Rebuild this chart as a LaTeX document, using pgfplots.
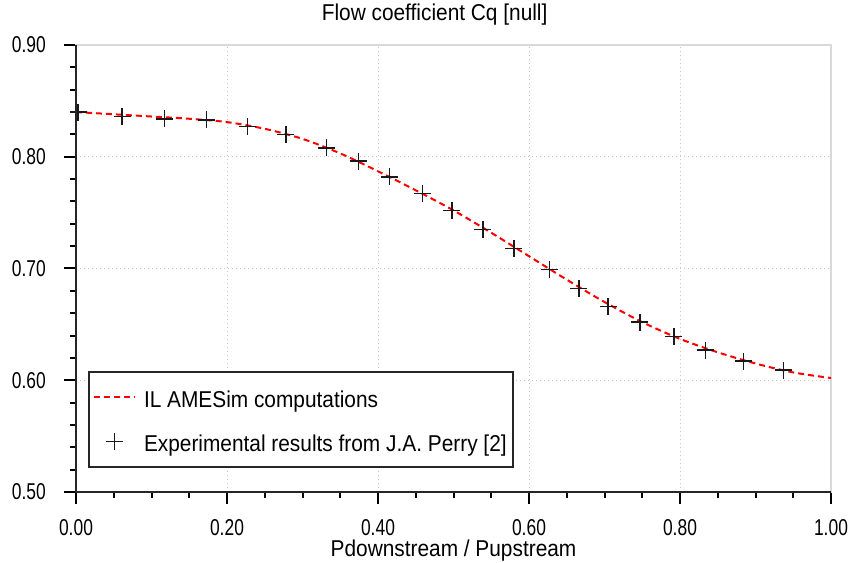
\documentclass[border=0pt]{standalone}
\usepackage{fontspec}
\setmainfont{Liberation Sans}[FakeStretch=0.91]
\newfontfamily\tickfont{Liberation Sans}[FakeStretch=0.76]
\usepackage{pgfplots}
\usepackage{pgfplotstable}
\pgfplotsset{compat=1.18}

% simulated curve
\pgfplotstableread{
x     y
0.00  0.840
0.05  0.838
0.10  0.836
0.15  0.834
0.20  0.831
0.25  0.825
0.30  0.816
0.35  0.803
0.40  0.787
0.45  0.770
0.50  0.752
0.55  0.732
0.60  0.711
0.65  0.690
0.70  0.670
0.75  0.652
0.80  0.637
0.85  0.625
0.90  0.615
0.95  0.607
1.00  0.602
}\cqcurve

% measured points
\pgfplotstableread{
x     y
0.003 0.840
0.061 0.836
0.117 0.834
0.173 0.833
0.227 0.827
0.278 0.820
0.332 0.808
0.374 0.796
0.415 0.782
0.459 0.767
0.498 0.752
0.539 0.735
0.580 0.718
0.627 0.699
0.666 0.682
0.705 0.666
0.747 0.652
0.792 0.639
0.834 0.627
0.884 0.617
0.937 0.609
}\cqexp

\begin{document}
\begin{tikzpicture}
\begin{axis}[
    at={(0,0)}, anchor=south west,
    scale only axis,
    width=755bp, height=447bp,
    xmin=0, xmax=1, ymin=0.5, ymax=0.9,
    xtick={0,0.2,0.4,0.6,0.8,1},
    ytick={0.5,0.6,0.7,0.8,0.9},
    minor x tick num=3,
    minor y tick num=4,
    tick align=outside,
    xtick pos=bottom, ytick pos=left,
    major tick length=12bp, minor tick length=6bp,
    every tick/.style={black, line width=2bp},
    grid=major,
    major grid style={gray!45, line width=1bp, dash pattern=on 1bp off 3bp},
    axis line style={gray!30, line width=2bp},
    after end axis/.code={
        \draw[black!85, line width=2bp] (rel axis cs:0,1) -- (rel axis cs:0,0) -- (rel axis cs:1,0);
    },
    /pgf/number format/.cd, fixed, fixed zerofill, precision=2, assume math mode=true,
    /pgfplots/.cd,
    xticklabel style={font=\tickfont\fontsize{23}{26}\selectfont, anchor=base, inner sep=0pt, yshift=-31bp},
    yticklabel style={font=\tickfont\fontsize{23}{26}\selectfont, anchor=east, inner sep=0pt, xshift=-18bp},
    title={Flow coefficient Cq [null]},
    title style={at={(axis description cs:0.475,1)}, anchor=base, yshift=18.5bp,
        inner sep=0pt, font=\fontsize{23}{26}\selectfont},
    xlabel={Pdownstream / Pupstream},
    xlabel style={at={(axis description cs:0.5,0)}, anchor=base, yshift=-64.5bp,
        inner sep=0pt, font=\fontsize{23}{26}\selectfont},
    legend style={at={(axis description cs:0.0159,0.0537)}, anchor=south west,
        draw=black!85, line width=2bp, fill=white,
        font=\fontsize{23}{26}\selectfont,
        inner xsep=4bp, inner ysep=8bp, row sep=9bp,
        nodes={inner sep=2bp, text height=26bp, text depth=5bp},
        /tikz/every odd column/.append style={column sep=6bp}},
    legend cell align=left,
    legend image code/.code={
        \draw[mark repeat=2, mark phase=2, #1] plot coordinates {(0bp,0bp) (20.5bp,0bp) (41bp,0bp)};
    },
]
\addplot[red, line width=2bp, dash pattern=on 6bp off 4bp, smooth] table {\cqcurve};
\addlegendentry{IL AMESim computations}
\addplot[only marks, mark=+, mark size=8.5bp, black!90, line width=1.6bp] table {\cqexp};
\addlegendentry{Experimental results from J.A. Perry [2]}
\end{axis}
\pgfresetboundingbox
\useasboundingbox (-76bp,-71bp) rectangle (781bp,492bp);
\end{tikzpicture}
\end{document}
